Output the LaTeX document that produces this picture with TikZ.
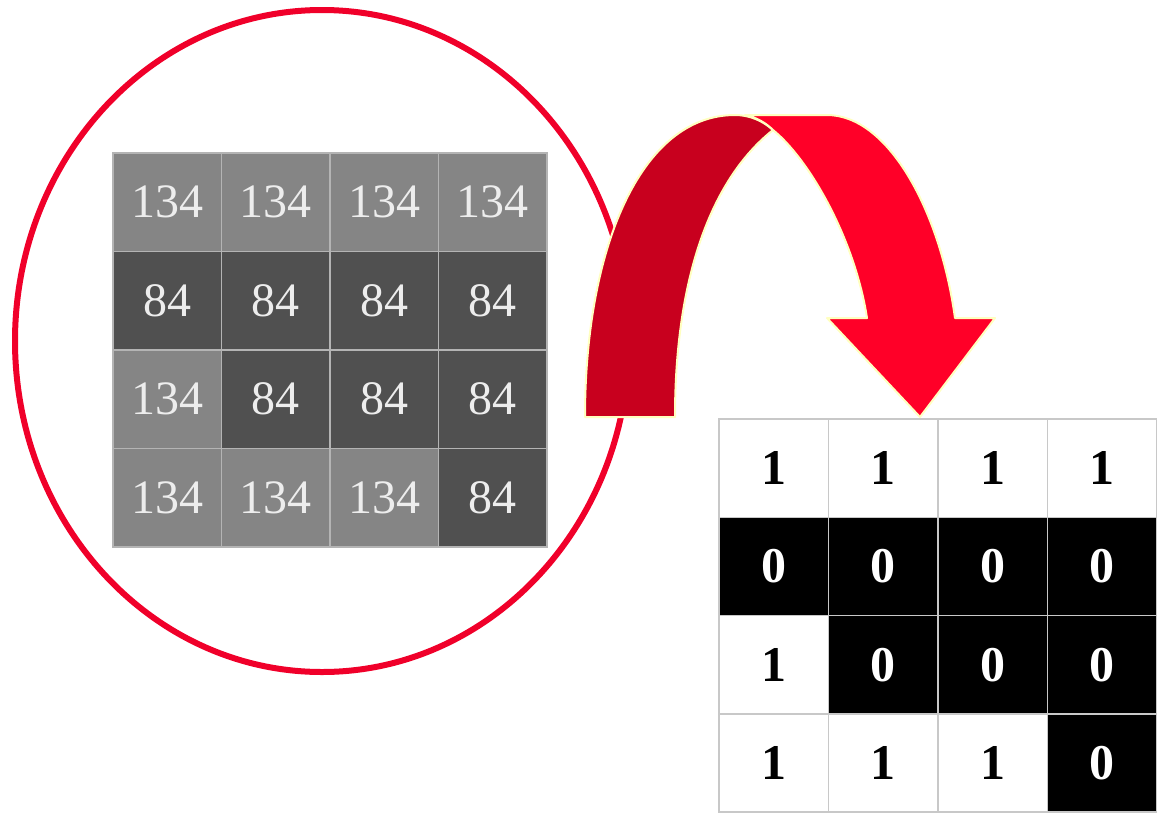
\documentclass[tikz,border=0pt]{standalone}
\usepackage{fontspec}
\setmainfont{Liberation Serif}
\usetikzlibrary{shapes.geometric}
\definecolor{ringred}{HTML}{F0002A}
\definecolor{arrowred}{HTML}{FF0028}
\definecolor{arrowdark}{HTML}{C8001E}
\definecolor{arrowedge}{HTML}{FFFFC0}
\definecolor{lightcell}{HTML}{858585}
\definecolor{darkcell}{HTML}{505050}
\definecolor{gridline}{HTML}{B4B4B4}
\definecolor{bgrid}{HTML}{C8C8C8}
\begin{document}
\begin{tikzpicture}[x=1pt,y=-1pt,
  gcell/.style={rectangle,minimum width=108.5pt,minimum height=98.5pt,inner sep=0pt,
    draw=gridline,line width=1.5pt,text=white!93!black,font=\fontsize{48}{52}\selectfont},
  lt/.style={gcell,fill=lightcell},
  dk/.style={gcell,fill=darkcell},
  bcell/.style={rectangle,minimum width=109.5pt,minimum height=98.25pt,inner sep=0pt,
    draw=bgrid,line width=1.5pt,font=\fontsize{50}{54}\selectfont\bfseries},
  one/.style={bcell,fill=white,text=black},
  zero/.style={bcell,fill=black,text=white},
  ringstyle/.style={draw=ringred,line width=6pt,ellipse,minimum width=614pt,minimum height=662pt,inner sep=0pt},
  bandstyle/.style={draw=arrowedge,line width=2pt,line join=round}
]
\useasboundingbox (0,0) rectangle (1157,812);

% ring
\node[ringstyle] (ring) at (322,341) {};

% left grey grid
\node[lt] (a11) at (167.25,202.25) {134};
\node[lt] (a12) at (275.75,202.25) {134};
\node[lt] (a13) at (384.25,202.25) {134};
\node[lt] (a14) at (492.75,202.25) {134};
\node[dk] (a21) at (167.25,300.75) {84};
\node[dk] (a22) at (275.75,300.75) {84};
\node[dk] (a23) at (384.25,300.75) {84};
\node[dk] (a24) at (492.75,300.75) {84};
\node[lt] (a31) at (167.25,399.25) {134};
\node[dk] (a32) at (275.75,399.25) {84};
\node[dk] (a33) at (384.25,399.25) {84};
\node[dk] (a34) at (492.75,399.25) {84};
\node[lt] (a41) at (167.25,497.75) {134};
\node[lt] (a42) at (275.75,497.75) {134};
\node[lt] (a43) at (384.25,497.75) {134};
\node[dk] (a44) at (492.75,497.75) {84};

% curved arrow
\filldraw[bandstyle,fill=arrowdark] (585,417) .. controls (585,250) and (640,115) .. (735,115)
  .. controls (750,115) and (763,121) .. (773,130)
  .. controls (710,180) and (675,280) .. (675,417) -- cycle;
\filldraw[bandstyle,fill=arrowred] (745,115) -- (827,115)
  .. controls (888,115) and (940,210) .. (955,318)
  -- (995,318) -- (920,417) -- (827,318) -- (867,318)
  .. controls (855,240) and (810,160) .. (773,130)
  .. controls (765,122) and (755,117) .. (745,115) -- cycle;

% right binary grid
\node[one]  (b11) at (773.75,468.125) {1};
\node[one]  (b12) at (883.25,468.125) {1};
\node[one]  (b13) at (992.75,468.125) {1};
\node[one]  (b14) at (1102.25,468.125) {1};
\node[zero] (b21) at (773.75,566.375) {0};
\node[zero] (b22) at (883.25,566.375) {0};
\node[zero] (b23) at (992.75,566.375) {0};
\node[zero] (b24) at (1102.25,566.375) {0};
\node[one]  (b31) at (773.75,664.625) {1};
\node[zero] (b32) at (883.25,664.625) {0};
\node[zero] (b33) at (992.75,664.625) {0};
\node[zero] (b34) at (1102.25,664.625) {0};
\node[one]  (b41) at (773.75,762.875) {1};
\node[one]  (b42) at (883.25,762.875) {1};
\node[one]  (b43) at (992.75,762.875) {1};
\node[zero] (b44) at (1102.25,762.875) {0};
\end{tikzpicture}
\end{document}
